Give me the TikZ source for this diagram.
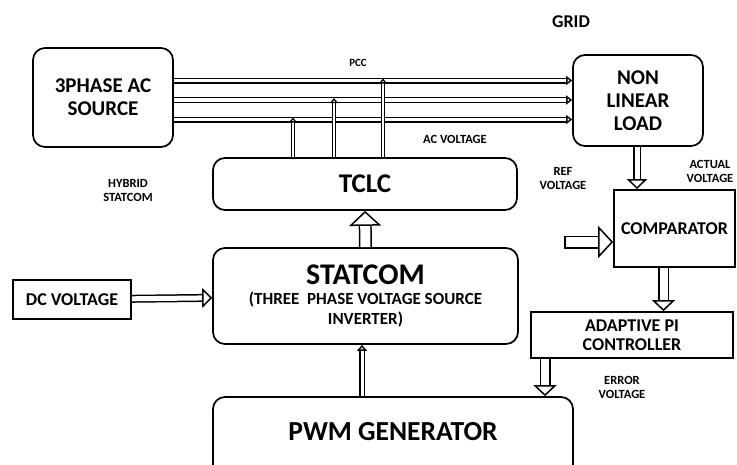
\documentclass[tikz,border=0pt]{standalone}
\usepackage{fontspec}
\setmainfont{Carlito}
\usetikzlibrary{arrows.meta}
\usetikzlibrary{positioning}

\begin{document}
\begin{tikzpicture}[
    x=1pt, y=-1pt,
    font=\bfseries\fontsize{21}{23}\selectfont,
    blk/.style={draw, line width=1.7pt, rounded corners=12pt, align=center, inner sep=0pt},
    sqblk/.style={draw, line width=1.7pt, align=center, inner sep=0pt},
    lbl/.style={font=\bfseries\fontsize{12.5}{14}\selectfont, align=center},
    bus/.style={double, double distance=3.2pt, line width=1.4pt, -{Triangle[open, length=6pt, width=9pt]}},
    tap/.style={double, double distance=2pt, line width=1.4pt, -{Triangle[open, length=5pt, width=8pt]}},
    link/.style={double, double distance=5pt, line width=1.5pt, -{Triangle[open, length=10pt, width=20pt]}},
    wide/.style={double, double distance=8pt, line width=1.5pt, -{Triangle[open, length=11pt, width=23pt]}},
    fat/.style={double, double distance=10pt, line width=1.5pt, -{Triangle[open, length=15pt, width=32pt]}}
  ]
  \useasboundingbox (0,0) rectangle (737,464);
  \clip (0,0) rectangle (737,464);

  % blocks
  \node[blk, minimum width=140pt, minimum height=99pt] (src) at (103,97.5) {3PHASE AC\\SOURCE};
  \node[blk, minimum width=130pt, minimum height=91pt, font=\bfseries\fontsize{21}{23}\selectfont] (load) at (638,100.5) {NON\\LINEAR\\LOAD};
  \node[blk, minimum width=304pt, minimum height=52pt, font=\bfseries\fontsize{27}{29}\selectfont] (tclc) at (365,184) {TCLC};
  \node[blk, minimum width=305pt, minimum height=96pt, font=\bfseries\fontsize{17}{20}\selectfont] (statcom) at (365.5,296)
    {{\fontsize{30}{30}\selectfont STATCOM}\\(THREE\ \ PHASE VOLTAGE SOURCE\\INVERTER)};
  \node[sqblk, minimum width=118pt, minimum height=39pt, font=\bfseries\fontsize{18}{20}\selectfont] (dc) at (72,299.5) {DC VOLTAGE};
  \node[blk, minimum width=360pt, minimum height=90pt] (pwm) at (393,442) {};
  \node[font=\bfseries\fontsize{27.5}{30}\selectfont] (pwmtext) at (393,432) {PWM GENERATOR};
  \node[sqblk, minimum width=121pt, minimum height=77pt, font=\bfseries\fontsize{18}{20}\selectfont] (comp) at (674.5,228.5) {COMPARATOR};
  \node[sqblk, minimum width=202pt, minimum height=46pt, font=\bfseries\fontsize{18}{19}\selectfont] (pi) at (632,335) {ADAPTIVE PI\\CONTROLLER};

  % labels
  \node[font=\bfseries\fontsize{18}{20}\selectfont] (grid) at (571,22) {GRID};
  \node[lbl, font=\bfseries\fontsize{11}{12}\selectfont] (pcc) at (358,63) {PCC};
  \node[lbl] (acv) at (455,139) {AC VOLTAGE};
  \node[lbl] (refv) at (563,178) {REF\\VOLTAGE};
  \node[lbl] (actv) at (710,171) {ACTUAL\\VOLTAGE};
  \node[lbl] (hyb) at (128,190) {HYBRID\\STATCOM};
  \node[lbl] (errv) at (622,387) {ERROR\\VOLTAGE};

  % three phase bus
  \coordinate (a1) at ([yshift=17pt]src.east);
  \coordinate (a2) at ([yshift=-2.5pt]src.east);
  \coordinate (a3) at ([yshift=-22pt]src.east);
  \draw[bus] (a1) -- (a1 -| load.west);
  \draw[bus] (a2) -- (a2 -| load.west);
  \draw[bus] (a3) -- (a3 -| load.west);

  % TCLC taps
  \coordinate (t1) at ([xshift=-72pt]tclc.north);
  \coordinate (t2) at ([xshift=-31pt]tclc.north);
  \coordinate (t3) at ([xshift=18pt]tclc.north);
  \draw[tap, shorten >=-2pt] (t1) -- (t1 |- a3);
  \draw[tap, shorten >=-2pt] (t2) -- (t2 |- a2);
  \draw[tap, shorten >=-2pt] (t3) -- (t3 |- a1);

  % other connectors
  \draw[fat] (statcom.north) -- (tclc.south);
  \draw[link] (dc) -- (statcom);
  \coordinate (pw) at ([xshift=-31pt]pwm.north);
  \draw[link, double distance=3pt, -{Triangle[open, length=6pt, width=10pt]}] (pw) -- (pw |- statcom.south);
  \coordinate (ld) at ([xshift=-1pt]load.south);
  \draw[link] (ld) -- (ld |- comp.north);
  \coordinate (cp) at ([xshift=-11pt]comp.south);
  \draw[wide] (cp) -- (cp |- pi.north);
  \coordinate (pp) at ([xshift=-87pt]pi.south);
  \draw[wide] (pp) -- (pp |- pwm.north);
  \coordinate (refin) at (565,242);
  \draw[fat] (refin) -- (refin -| comp.west);
  \draw[line width=1.5pt] ([yshift=6.5pt]refin) -- ([yshift=-6.5pt]refin);
\end{tikzpicture}
\end{document}
